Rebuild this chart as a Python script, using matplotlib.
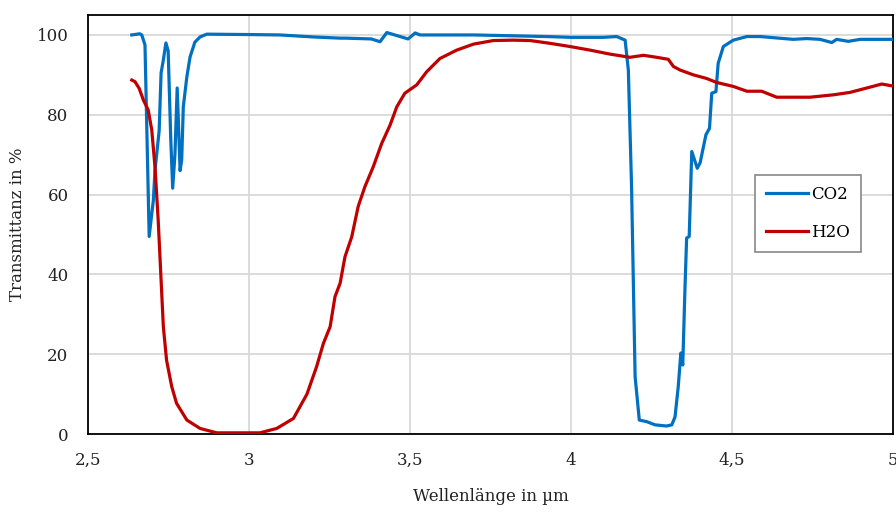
import numpy as np
import matplotlib.pyplot as plt
import matplotlib.ticker as mticker

plt.rcParams['font.family'] = ['DejaVu Serif']

# CO2 transmittance
co2_x = [2.636, 2.661, 2.667, 2.677, 2.690, 2.703, 2.708, 2.721, 2.727, 2.734, 2.742, 2.749,
         2.757, 2.763, 2.770, 2.777, 2.786, 2.791, 2.796, 2.807, 2.817, 2.832, 2.848, 2.869,
         3.0, 3.096, 3.20, 3.283, 3.30, 3.38, 3.407, 3.428, 3.494, 3.516, 3.531, 3.70, 3.925,
         4.0, 4.099, 4.142, 4.168, 4.178, 4.188, 4.199, 4.212, 4.235, 4.261, 4.297, 4.313,
         4.323, 4.333, 4.341, 4.347, 4.354, 4.359, 4.367, 4.375, 4.392, 4.401, 4.419, 4.430,
         4.437, 4.450, 4.457, 4.473, 4.504, 4.546, 4.587, 4.690, 4.732, 4.773, 4.810, 4.825,
         4.861, 4.898, 5.0]
co2_y = [100.0, 100.3, 100.0, 97.5, 49.5, 58.6, 66, 76, 90.5, 93.7, 98, 96,
         74, 61.6, 70, 86.7, 66, 68.7, 82, 89.5, 94.5, 98.2, 99.5, 100.2,
         100.1, 100, 99.5, 99.2, 99.2, 99, 98.3, 100.6, 99, 100.5, 100, 100, 99.6,
         99.4, 99.4, 99.6, 98.7, 91.2, 62, 14.4, 3.5, 3.1, 2.3, 2.0, 2.3,
         4.3, 11.9, 20.3, 17.3, 36.9, 49.1, 49.5, 70.8, 66.6, 68, 75, 76.6,
         85.4, 85.8, 92.9, 97.1, 98.7, 99.6, 99.6, 98.9, 99.1, 98.9, 98.1, 98.9,
         98.4, 98.9, 98.9]

# H2O transmittance
h2o_x = [2.636, 2.646, 2.659, 2.672, 2.687, 2.698, 2.708, 2.713, 2.718, 2.724, 2.734, 2.744,
         2.760, 2.775, 2.807, 2.848, 2.900, 3.034, 3.086, 3.138, 3.180, 3.210, 3.231, 3.252,
         3.267, 3.283, 3.298, 3.319, 3.339, 3.360, 3.386, 3.412, 3.438, 3.459, 3.484, 3.521,
         3.552, 3.593, 3.645, 3.697, 3.759, 3.821, 3.873, 3.935, 3.997, 4.059, 4.121, 4.183,
         4.225, 4.266, 4.302, 4.318, 4.339, 4.380, 4.421, 4.452, 4.504, 4.546, 4.592, 4.639,
         4.742, 4.815, 4.866, 4.918, 4.965, 5.0]
h2o_y = [88.7, 88.3, 86.6, 83.7, 81.2, 76.2, 67, 60.4, 53.6, 43.6, 26.9, 18.5,
         11.9, 7.7, 3.5, 1.4, 0.3, 0.3, 1.4, 3.9, 10.0, 16.9, 22.7, 26.9,
         34.4, 37.8, 44.4, 49.4, 57, 62, 67, 72.8, 77.4, 82, 85.4, 87.5,
         90.8, 94.1, 96.2, 97.7, 98.6, 98.7, 98.6, 97.9, 97.1, 96.2, 95.2, 94.4,
         94.9, 94.4, 93.9, 92.1, 91.2, 90, 89.1, 88.1, 87.1, 85.9, 85.9, 84.4,
         84.4, 85, 85.6, 86.7, 87.7, 87.2]

x_ticks = [2.5, 3, 3.5, 4, 4.5, 5]
y_ticks = [0, 20, 40, 60, 80, 100]

fig = plt.figure(figsize=(8.96, 5.12), dpi=100)
ax = fig.add_axes([0.0982, 0.1523, 0.8985, 0.8184])

ax.plot(co2_x, co2_y, color='#0070C0', lw=2.3, label='CO2', zorder=3)
ax.plot(h2o_x, h2o_y, color='#C00000', lw=2.3, label='H2O', zorder=3)

ax.set_xlim(2.5, 5)
ax.set_ylim(0, 105)
ax.set_xticks(x_ticks)
ax.set_yticks(y_ticks)
ax.xaxis.set_major_formatter(mticker.FuncFormatter(lambda v, p: ('%g' % v).replace('.', ',')))
ax.tick_params(length=0, labelsize=12, pad=13, colors='#222222')
ax.tick_params(axis='y', pad=14)
ax.grid(True, color='#D9D9D9', lw=1.3)
ax.set_axisbelow(True)
for s in ax.spines.values():
    s.set_color('black')
    s.set_linewidth(1.3)

ax.set_xlabel('Wellenlänge in µm', fontsize=12, color='#222222', va='center')
ax.set_ylabel('Transmittanz in %', fontsize=12, color='#222222', va='center')
ax.xaxis.set_label_coords(0.5, -0.15)
ax.yaxis.set_label_coords(-0.087, 0.5)

leg = ax.legend(loc='upper left', bbox_to_anchor=(0.829, 0.618), fontsize=12,
                fancybox=False, framealpha=1, edgecolor='#888888',
                handlelength=2.5, handletextpad=0.2, labelspacing=1.25,
                borderpad=0.65, borderaxespad=0)
leg.get_frame().set_linewidth(1.2)

fig.savefig('out.png', dpi=100)
